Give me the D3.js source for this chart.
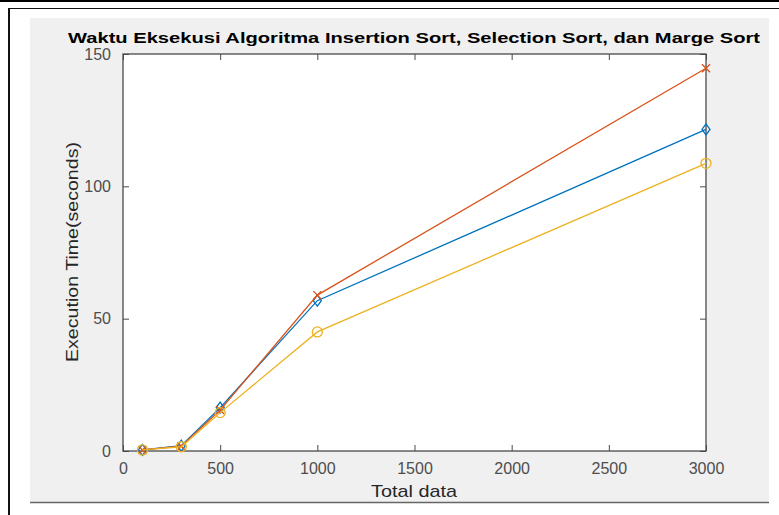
<!DOCTYPE html>
<html>
<head>
<meta charset="utf-8">
<script src="https://cdn.jsdelivr.net/npm/d3@7"></script>
<style>
  body { margin: 0; background: #fff; }
  svg { display: block; font-family: "Liberation Sans", Arial, sans-serif; }
</style>
</head>
<body>
<svg></svg>
<script>
// data
var totalData = [100, 300, 500, 1000, 3000]
var insertionTime = [0.4, 2.0, 16.4, 56.8, 121.5]
var selectionTime = [0.4, 1.8, 15.5, 58.9, 144.6]
var margeTime = [0.4, 1.6, 14.5, 45.0, 108.7]
var xTicks = [0, 500, 1000, 1500, 2000, 2500, 3000]
var yTicks = [0, 50, 100, 150]

var W = 779, H = 515
var margin = { top: 54, right: 73, bottom: 64, left: 123 },
    width = W - margin.left - margin.right,
    height = H - margin.top - margin.bottom

var root = d3.select("svg")
    .attr("width", W)
    .attr("height", H)

// page frame + figure background
root.append("rect").attr("x", 0).attr("y", 0).attr("width", W).attr("height", 2).attr("fill", "#000")
root.append("line").attr("x1", 9).attr("x2", 9).attr("y1", 8).attr("y2", H).attr("stroke", "#111").attr("stroke-width", 2)
root.append("line").attr("x1", 8).attr("x2", W).attr("y1", 8.5).attr("y2", 8.5).attr("stroke", "#111").attr("stroke-width", 1.2)
root.append("rect").attr("x", 30).attr("y", 18).attr("width", 739).attr("height", 485).attr("fill", "#f0f0f0")
root.append("line").attr("x1", 30).attr("x2", 769).attr("y1", 502.5).attr("y2", 502.5).attr("stroke", "#666").attr("stroke-width", 1.5)

var svg = root.append("g")
    .attr("transform", "translate(" + margin.left + "," + margin.top + ")")

svg.append("rect").attr("width", width).attr("height", height).attr("fill", "#fff")

var xScale = d3.scaleLinear().domain([0, 3000]).range([0, width])
var yScale = d3.scaleLinear().domain([0, 150]).range([height, 0])

var axisColor = "#4a4a4a"
var fmt = d3.format("d")

function styleAxis(g) {
    g.select(".domain").remove()
    g.selectAll(".tick line").attr("stroke", axisColor)
    g.selectAll(".tick text").attr("fill", "#4d4d4d").style("font-size", "16px")
}

// ticks point inward on all four sides
svg.append("g")
    .attr("transform", "translate(0," + height + ")")
    .call(d3.axisBottom(xScale).tickValues(xTicks).tickFormat(fmt).tickSizeInner(-6).tickSizeOuter(0).tickPadding(12))
    .call(styleAxis)
svg.append("g")
    .call(d3.axisTop(xScale).tickValues(xTicks).tickSizeInner(-6).tickSizeOuter(0).tickFormat(""))
    .call(styleAxis)
svg.append("g")
    .call(d3.axisLeft(yScale).tickValues(yTicks).tickFormat(fmt).tickSizeInner(-6).tickSizeOuter(0).tickPadding(12))
    .call(styleAxis)
svg.append("g")
    .attr("transform", "translate(" + width + ",0)")
    .call(d3.axisRight(yScale).tickValues(yTicks).tickSizeInner(-6).tickSizeOuter(0).tickFormat(""))
    .call(styleAxis)

svg.append("rect").attr("width", width).attr("height", height)
    .attr("fill", "none").attr("stroke", axisColor).attr("stroke-width", 1.3)

var series = [
    { values: insertionTime, color: "#0072bd", marker: "diamond" },
    { values: selectionTime, color: "#d95319", marker: "cross" },
    { values: margeTime, color: "#edb120", marker: "circle" }
]

var line = d3.line()
    .x(function(d, i) { return xScale(totalData[i]) })
    .y(function(d) { return yScale(d) })

series.forEach(function(s) {
    svg.append("path")
        .attr("d", line(s.values))
        .attr("fill", "none")
        .attr("stroke", s.color)
        .attr("stroke-width", 1.3)

    var pts = svg.append("g").selectAll("g")
        .data(s.values)
        .enter().append("g")
        .attr("transform", function(d, i) { return "translate(" + xScale(totalData[i]) + "," + yScale(d) + ")" })

    if (s.marker === "diamond") {
        pts.append("path").attr("d", "M0,-5.5L4,0L0,5.5L-4,0Z")
            .attr("fill", "none").attr("stroke", s.color).attr("stroke-width", 1.3)
    } else if (s.marker === "cross") {
        pts.append("path").attr("d", "M-4,-4L4,4M-4,4L4,-4")
            .attr("fill", "none").attr("stroke", s.color).attr("stroke-width", 1.3)
    } else {
        pts.append("circle").attr("r", 5)
            .attr("fill", "none").attr("stroke", s.color).attr("stroke-width", 1.3)
    }
})

// title and axis labels
root.append("text")
    .attr("x", 414).attr("y", 43)
    .attr("text-anchor", "middle")
    .attr("textLength", 692).attr("lengthAdjust", "spacingAndGlyphs")
    .style("font-size", "15px").style("font-weight", "bold").attr("fill", "#000")
    .text("Waktu Eksekusi Algoritma Insertion Sort, Selection Sort, dan Marge Sort")

root.append("text")
    .attr("x", 414).attr("y", 497)
    .attr("text-anchor", "middle")
    .attr("textLength", 86).attr("lengthAdjust", "spacingAndGlyphs")
    .style("font-size", "17px").attr("fill", "#262626")
    .text("Total data")

root.append("text")
    .attr("transform", "translate(78,252) rotate(-90)")
    .attr("text-anchor", "middle")
    .attr("textLength", 220).attr("lengthAdjust", "spacingAndGlyphs")
    .style("font-size", "17px").attr("fill", "#262626")
    .text("Execution Time(seconds)")
</script>
</body>
</html>
